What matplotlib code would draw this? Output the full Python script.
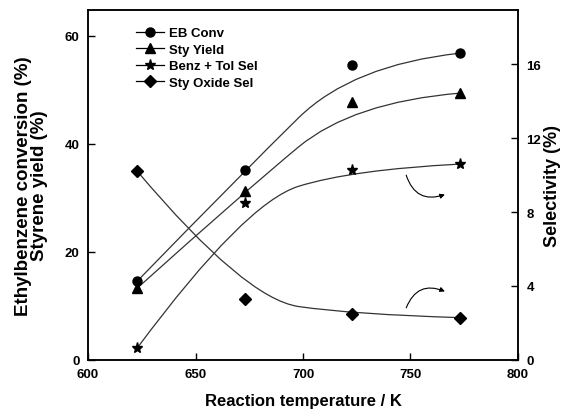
import matplotlib
matplotlib.use("Agg")
import matplotlib.pyplot as plt
from matplotlib.path import Path
from matplotlib.patches import PathPatch
from matplotlib.lines import Line2D

plt.rcParams['font.family'] = ['Liberation Sans', 'DejaVu Sans']
plt.rcParams['font.weight'] = 'bold'

# data
temp = [623, 673, 723, 773]
eb_conv = [14.6, 35.1, 54.6, 56.8]          # left axis
sty_yield = [13.3, 31.2, 47.7, 49.4]        # left axis
benz_tol_sel = [0.65, 8.5, 10.3, 10.6]      # right axis
sty_oxide_sel = [10.2, 3.3, 2.46, 2.28]     # right axis

labels = ['EB Conv', 'Sty Yield', 'Benz + Tol Sel', 'Sty Oxide Sel']
markers = ['o', '^', '*', 'D']
msizes = [6.5, 7, 8, 6]

line_col = '#333333'


def bspline_path(x, y):
    # quadratic B-spline with the data as control points (ends pinned)
    verts = [(x[0], y[0])]
    codes = [Path.MOVETO]
    for i in range(1, len(x) - 2):
        verts += [(x[i], y[i]), ((x[i] + x[i + 1]) / 2, (y[i] + y[i + 1]) / 2)]
        codes += [Path.CURVE3, Path.CURVE3]
    verts += [(x[-2], y[-2]), (x[-1], y[-1])]
    codes += [Path.CURVE3, Path.CURVE3]
    return Path(verts, codes)


fig = plt.figure(figsize=(5.62, 4.10), dpi=100)
ax = fig.add_axes([0.1566, 0.1202, 0.7651, 0.853])
ax2 = ax.twinx()

series = [(ax, eb_conv), (ax, sty_yield), (ax2, benz_tol_sel), (ax2, sty_oxide_sel)]
for (a, vals), m, ms in zip(series, markers, msizes):
    a.add_patch(PathPatch(bspline_path(temp, vals), fill=False, lw=0.9, ec=line_col))
    a.plot(temp, vals, ls='none', marker=m, ms=ms, color='k')

ax.set_xlim(600, 800)
ax.set_ylim(0, 64.8)
ax2.set_ylim(0, 18.95)
ax.set_xticks([600, 650, 700, 750, 800])
ax.set_yticks([0, 20, 40, 60])
ax2.set_yticks([0, 4, 8, 12, 16])

ax.tick_params(direction='in', length=5, width=1, labelsize=9.5, top=False, right=False, pad=6)
ax2.tick_params(direction='in', length=5, width=1, labelsize=9.5, pad=6)
for a in (ax, ax2):
    for s in a.spines.values():
        s.set_linewidth(1.1)

ax.set_xlabel('Reaction temperature / K', fontsize=12, fontweight='bold', labelpad=9)
ax.set_ylabel('Ethylbenzene conversion (%)\nStyrene yield (%)', fontsize=13.5,
              fontweight='bold', labelpad=12, linespacing=0.95)
ax2.set_ylabel('Selectivity (%)', fontsize=13, fontweight='bold', labelpad=2)

# arrows pointing to the selectivity axis
ax2.annotate('', xy=(766, 8.95), xytext=(748, 10.0),
             arrowprops=dict(arrowstyle='-|>', connectionstyle='arc3,rad=0.5',
                             lw=0.8, color='k', mutation_scale=7, shrinkA=0, shrinkB=0))
ax2.annotate('', xy=(766, 3.7), xytext=(748, 2.81),
             arrowprops=dict(arrowstyle='-|>', connectionstyle='arc3,rad=-0.5',
                             lw=0.8, color='k', mutation_scale=7, shrinkA=0, shrinkB=0))

handles = [Line2D([], [], color='k', lw=0.9, marker=m, ms=ms) for m, ms in zip(markers, msizes)]
ax.legend(handles, labels, loc='upper left', bbox_to_anchor=(0.085, 0.985), frameon=False,
          handlelength=2.1, handletextpad=0.4, labelspacing=0.32,
          prop={'weight': 'bold', 'size': 9.5})

fig.savefig('out.png', dpi=100)
